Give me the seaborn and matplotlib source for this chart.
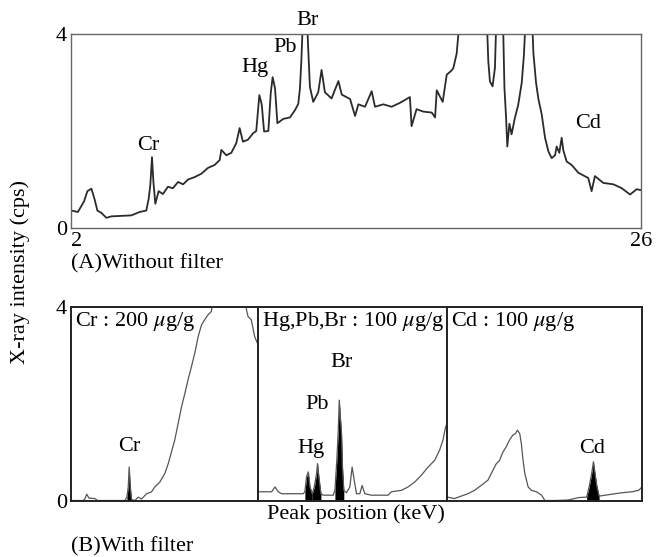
import pandas as pd
import matplotlib
matplotlib.use("Agg")
import matplotlib.pyplot as plt
import seaborn as sns

# (A) spectrum without filter: energy (keV) vs intensity (cps)
top_kev = [2.01, 2.29, 2.55, 2.69, 2.86, 3.00, 3.11, 3.28, 3.49, 3.70, 4.12, 4.54,
           4.89, 5.17, 5.27, 5.34, 5.41, 5.47, 5.55, 5.69, 5.87, 6.08, 6.29, 6.51,
           6.72, 6.93, 7.21, 7.49, 7.77, 8.05, 8.26, 8.33, 8.54, 8.75, 8.96, 9.10,
           9.24, 9.45, 9.66, 9.80, 9.93, 10.03, 10.13, 10.31, 10.41, 10.49, 10.59,
           10.69, 10.94, 11.22, 11.43, 11.57, 11.64, 11.70, 11.78, 11.92, 11.99,
           12.06, 12.20, 12.41, 12.55, 12.69, 12.97, 13.26, 13.40, 13.75, 13.96,
           14.10, 14.38, 14.66, 14.80, 15.15, 15.50, 15.85, 16.27, 16.34, 16.55,
           16.83, 17.19, 17.33, 17.40, 17.65, 17.82, 18.03, 18.10, 18.24, 18.31,
           18.38, 19.43, 19.53, 19.57, 19.64, 19.75, 19.85, 19.92, 20.18, 20.25,
           20.32, 20.37, 20.46, 20.55, 20.69, 20.83, 20.98, 21.07, 21.16, 21.40,
           21.47, 21.58, 21.68, 21.82, 21.96, 22.10, 22.24, 22.38, 22.45, 22.56,
           22.66, 22.73, 22.87, 23.08, 23.36, 23.78, 23.92, 24.06, 24.41, 24.84,
           25.19, 25.54, 25.82, 26.00]
top_cps = [0.36, 0.33, 0.55, 0.76, 0.81, 0.58, 0.36, 0.31, 0.21, 0.24, 0.25, 0.26,
           0.33, 0.36, 0.60, 0.89, 1.46, 0.95, 0.50, 0.76, 0.70, 0.85, 0.82, 0.95,
           0.90, 1.00, 1.05, 1.12, 1.24, 1.30, 1.40, 1.61, 1.50, 1.55, 1.75, 2.06,
           1.78, 1.82, 1.95, 2.00, 2.74, 2.55, 1.99, 2.00, 2.78, 3.11, 2.88,
           2.16, 2.25, 2.28, 2.43, 2.56, 2.88, 3.46, 4.50, 4.50, 3.67,
           2.91, 2.60, 2.80, 3.26, 2.80, 2.67, 3.03, 2.75, 2.66, 2.31,
           2.55, 2.50, 2.82, 2.50, 2.55, 2.50, 2.58, 2.70, 2.10, 2.45,
           2.40, 2.38, 2.28, 2.84, 2.60, 3.16, 3.25, 3.30, 3.60, 4.00,
           4.50, 4.50, 4.00, 3.44, 3.02, 2.92, 3.30, 4.50, 4.50, 2.89,
           2.27, 1.68, 2.15, 1.93, 2.27, 2.54, 3.00, 3.57, 4.50, 4.50,
           3.60, 3.00, 2.66, 2.34, 1.86, 1.58, 1.44, 1.50, 1.68, 1.55,
           1.86, 1.60, 1.37, 1.30, 1.14, 1.03, 0.76, 1.07, 0.93, 0.90,
           0.82, 0.69, 0.80, 0.78]

# (B) spectra with filter, channel position (0-100 across each panel) vs cps
cr_ch = [0.4, 6.6, 7.5, 8.4, 9.6, 12.8, 14.2, 28.8, 29.9, 30.6, 31.1, 31.7, 32.4,
         34.2, 35.9, 37.7, 40.4, 43.1, 44.8, 47.5, 50.2, 52.0, 53.7, 55.5, 57.3,
         59.1, 60.9, 62.6, 64.4, 66.2, 68.0, 69.8, 71.5, 73.3, 75.1, 76.5, 92.9,
         93.8, 94.7, 96.4, 98.2, 99.6]
cr_cps = [0.01, 0.01, 0.05, 0.14, 0.06, 0.05, 0.01, 0.01, 0.08, 0.29, 0.70, 0.29, 0.03,
          0.01, 0.08, 0.04, 0.15, 0.19, 0.29, 0.39, 0.57, 0.77, 1.01, 1.26, 1.60,
          1.94, 2.22, 2.50, 2.77, 3.05, 3.39, 3.63, 3.74, 3.84, 3.91, 4.30, 4.30,
          3.95, 3.80, 3.74, 3.39, 3.26]

hgpbbr_ch = [0.2, 7.2, 9.0, 10.7, 12.5, 23.9, 24.8, 25.7, 26.6, 27.5, 28.7, 29.8,
             31.0, 31.5, 32.2, 33.3, 34.5, 39.8, 40.7, 41.7, 42.4, 43.0, 43.5, 44.2,
             44.7, 45.4, 46.8, 48.6, 49.8, 50.9, 52.1, 53.9, 55.1, 56.5, 60.0, 68.8,
             70.6, 75.9, 79.4, 82.9, 86.4, 90.0, 93.5, 96.1, 97.9, 99.1, 100.0]
hgpbbr_cps = [0.19, 0.19, 0.29, 0.19, 0.15, 0.15, 0.19, 0.50, 0.60, 0.29, 0.15, 0.29,
              0.57, 0.77, 0.50, 0.15, 0.12, 0.12, 0.22, 0.84, 1.39, 2.08, 1.77, 1.39,
              0.70, 0.22, 0.17, 0.29, 0.70, 0.43, 0.15, 0.15, 0.32, 0.15, 0.12, 0.12,
              0.19, 0.22, 0.29, 0.39, 0.53, 0.70, 0.84, 1.05, 1.26, 1.50, 1.60]

cd_ch = [0.3, 3.8, 7.2, 10.7, 14.1, 17.5, 21.0, 23.5, 25.3, 27.0, 28.7, 30.4, 32.1,
         33.8, 35.1, 36.1, 37.3, 38.1, 39.0, 39.9, 41.6, 43.3, 45.9, 48.5, 50.2,
         55.3, 62.2, 67.4, 71.6, 72.9, 74.2, 75.1, 75.9, 76.8, 78.0, 81.1, 84.5,
         89.7, 94.8, 98.3, 100.0]
cd_cps = [0.08, 0.05, 0.10, 0.15, 0.22, 0.32, 0.43, 0.63, 0.77, 0.84, 1.01, 1.12, 1.26,
          1.36, 1.39, 1.46, 1.39, 1.19, 0.84, 0.57, 0.29, 0.22, 0.19, 0.12, 0.01,
          0.01, 0.02, 0.07, 0.08, 0.29, 0.57, 0.81, 0.57, 0.32, 0.10, 0.12, 0.14,
          0.17, 0.19, 0.22, 0.29]

# filled analyte peaks (channel ranges)
cr_fill = [(29.9, 32.4)]
hgpbbr_fill = [(24.8, 28.7), (28.7, 33.3), (40.7, 45.4)]
cd_fill = [(71.6, 78.0)]

# element labels: (text, x, y) in data units
top_labels = [("Cr", 5.24, 1.71), ("Hg", 9.75, 3.30), ("Pb", 11.0, 3.73),
              ("Br", 11.94, 4.27), ("Cd", 23.77, 2.16)]
panels = [
    ("Cr : 200 $\\mu$g/g", cr_ch, cr_cps, cr_fill, [("Cr", 31.1, 1.13)]),
    ("Hg,Pb,Br : 100 $\\mu$g/g", hgpbbr_ch, hgpbbr_cps, hgpbbr_fill,
     [("Br", 44.4, 2.85), ("Pb", 31.2, 1.98), ("Hg", 28.0, 1.09)]),
    ("Cd : 100 $\\mu$g/g", cd_ch, cd_cps, cd_fill, [("Cd", 74.4, 1.09)]),
]

sns.set_theme(style="white")
plt.rcParams['font.family'] = ['Liberation Serif', 'DejaVu Serif']
plt.rcParams['mathtext.fontset'] = 'stix'
plt.rcParams['text.color'] = 'black'
plt.rcParams['xtick.color'] = 'black'
plt.rcParams['ytick.color'] = 'black'

FS = 16
W, H = 659, 557
fig = plt.figure(figsize=(W / 100, H / 100), dpi=100)


def rect(x0, x1, ytop, ybot):
    return [x0 / W, 1 - ybot / H, (x1 - x0) / W, (ybot - ytop) / H]


# ---- (A) without filter ----
ax = fig.add_axes(rect(71, 641, 34, 228))
df = pd.DataFrame({"keV": top_kev, "cps": top_cps})
sns.lineplot(data=df, x="keV", y="cps", ax=ax, color="#2b2b2b", linewidth=1.3,
             estimator=None, sort=False)
ax.set_xlim(2, 26)
ax.set_ylim(0, 4)
ax.set_xticks([2, 26])
ax.set_yticks([0, 4])
ax.tick_params(length=0, labelsize=FS, pad=3)
ax.get_xticklabels()[0].set_ha("left")
ax.set_xlabel("")
ax.set_ylabel("")
for s in ax.spines.values():
    s.set_color("#666666")
    s.set_linewidth(1.0)
for t, x, y in top_labels:
    ax.text(x, y, t, ha="center", va="center", fontsize=FS, clip_on=False)

# ---- (B) with filter ----
edges = [71, 258, 447, 642]
for i, (title, ch, cps, fills, labels) in enumerate(panels):
    bx = fig.add_axes(rect(edges[i], edges[i + 1], 307, 501))
    d = pd.DataFrame({"ch": ch, "cps": cps})
    sns.lineplot(data=d, x="ch", y="cps", ax=bx, color="#555555", linewidth=0.9,
                 estimator=None, sort=False)
    for a, b in fills:
        seg = d[(d["ch"] >= a) & (d["ch"] <= b)]
        bx.fill_between(seg["ch"], seg["cps"], 0, color="black", linewidth=0)
    bx.set_xlim(0, 100)
    bx.set_ylim(0, 4)
    bx.set_xticks([])
    if i == 0:
        bx.set_yticks([0, 4])
        bx.tick_params(length=0, labelsize=FS, pad=3)
    else:
        bx.set_yticks([])
    bx.set_xlabel("")
    bx.set_ylabel("")
    for s in bx.spines.values():
        s.set_color("#222222")
        s.set_linewidth(1.4)
    bx.text(0.02, 0.985, title, transform=bx.transAxes, ha="left", va="top",
            fontsize=FS)
    for t, x, y in labels:
        bx.text(x, y, t, ha="center", va="center", fontsize=FS)

fig.text(20 / W, 1 - 272 / H, "X-ray intensity (cps)", rotation=90,
         ha="center", va="center", fontsize=FS)
fig.text(71 / W, 1 - 264 / H, "(A)Without filter", ha="left", va="center", fontsize=FS)
fig.text(356 / W, 1 - 514 / H, "Peak position (keV)", ha="center", va="center",
         fontsize=FS)
fig.text(71 / W, 1 - 547 / H, "(B)With filter", ha="left", va="center", fontsize=FS)

fig.savefig("out.png", dpi=100)
